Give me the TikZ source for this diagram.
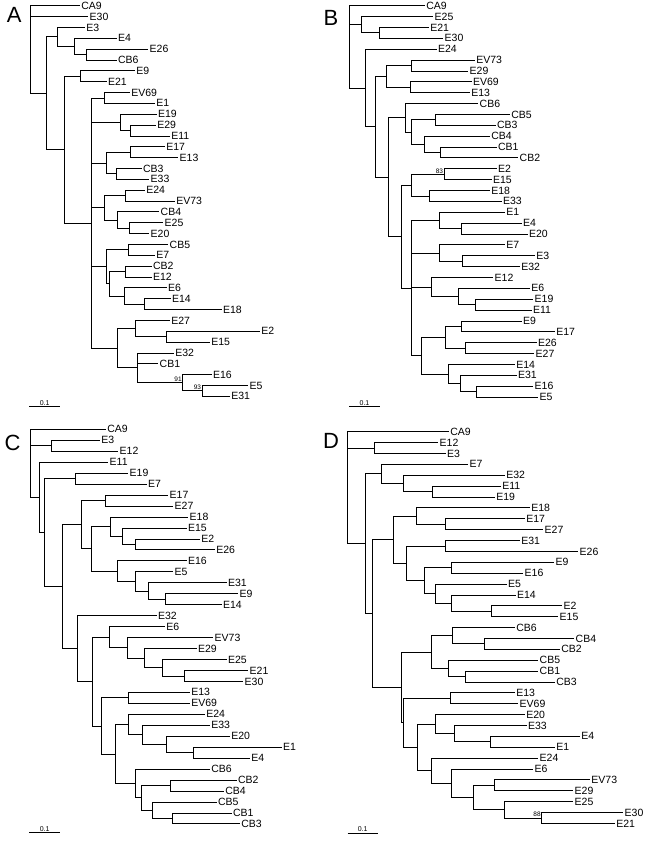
\documentclass[tikz,border=0pt]{standalone}
\usepackage{fontspec}
\setmainfont{Liberation Sans}
\usetikzlibrary{calc}
% a clade: name, x of its node, children from top to bottom
\newcommand\clade[3]{%
  \foreach \kid [count=\kidno] in {#3}{%
    \ifnum\kidno=1 \xdef\firstkid{\kid}\fi
    \xdef\lastkid{\kid}}%
  \path let \p1=(\firstkid), \p2=(\lastkid) in
    coordinate (#1) at (#2pt, {0.5*\y1+0.5*\y2});%
  \foreach \kid in {#3}{\draw[branch] (#1) |- (\kid);}%
}

\begin{document}
\begin{tikzpicture}[x=1pt, y=-1pt,
  leaf/.style={anchor=west, inner sep=1.2pt, font=\fontsize{10.5}{12}\selectfont},
  branch/.style={line width=0.8pt},
  boot/.style={anchor=south east, inner sep=0.8pt, font=\fontsize{6.5}{7}\selectfont},
  panel/.style={font=\fontsize{22}{24}\selectfont},
  barlabel/.style={above, inner sep=1pt, font=\fontsize{7}{8}\selectfont}
]
  \useasboundingbox (0,0) rectangle (653,841);

  % ---- A ----
  \node[panel] (labA) at (14.2,15.3) {A};
  \foreach \lf/\cx/\ix in {CA9/80/0, E30/88.3/1, E3/85/2, E4/116.7/3, E26/148.3/4,
      CB6/116.7/5, E9/135/6, E21/106.7/7, EV69/130/8, E1/155/9, E19/156.7/10,
      E29/156/11, E11/170/12, E17/165/13, E13/178.3/14, CB3/141.7/15, E33/149.3/16,
      E24/145/17, EV73/175/18, CB4/159.3/19, E25/163.3/20, E20/149.3/21,
      CB5/168.3/22, E7/155/23, CB2/151.7/24, E12/151.7/25, E6/166.7/26,
      E14/170.7/27, E18/221.7/28, E27/170/29, E2/260/30, E15/210/31, E32/174/32,
      CB1/158.3/33, E16/211.7/34, E5/248.3/35, E31/230/36}
    \node[leaf] (a\lf) at (\cx, {5.7+10.85*\ix}) {\lf};
  \clade{a1}{86.7}{aE26,aCB6}
  \clade{a2}{74}{aE4,a1}
  \clade{a3}{57.3}{aE3,a2}
  \clade{a4}{80}{aE9,aE21}
  \clade{a5}{104}{aEV69,aE1}
  \clade{a6}{130}{aE29,aE11}
  \clade{a7}{120.7}{aE19,a6}
  \clade{a8}{130.7}{aE17,aE13}
  \clade{a9}{116.7}{aCB3,aE33}
  \clade{a10}{106.7}{a8,a9}
  \clade{a11}{125.7}{aE24,aEV73}
  \clade{a12}{129.3}{aE25,aE20}
  \clade{a13}{117.3}{aCB4,a12}
  \clade{a14}{104}{a11,a13}
  \clade{a15}{128.3}{aCB5,aE7}
  \clade{a16}{125}{aCB2,aE12}
  \clade{a17}{144.3}{aE14,aE18}
  \clade{a18}{124.3}{aE6,a17}
  \clade{a19}{109}{a16,a18}
  \clade{a20}{106.7}{a15,a19}
  \clade{a21}{166.7}{aE2,aE15}
  \clade{a22}{135}{aE27,a21}
  \clade{a23}{202}{aE5,aE31}
  \clade{a24}{182.7}{aE16,a23}
  \clade{a25}{137.3}{aE32,aCB1,a24}
  \clade{a26}{117.3}{a22,a25}
  \clade{a27}{91.3}{a5,a7,a10,a14,a20,a26}
  \clade{a28}{64}{a4,a27}
  \clade{a29}{46.7}{a3,a28}
  \clade{a30}{30}{aCA9,aE30,a29}
  \node[boot] (a91) at (a24) {91};
  \node[boot] (a93) at (a23) {93};
  \coordinate (abar1) at (29.3,406.7);
  \coordinate (abar2) at (60,406.7);
  \draw[branch] (abar1) -- node[barlabel] (ascale) {0.1} (abar2);

  % ---- B ----
  \node[panel] (labB) at (331,17.5) {B};
  \foreach \lf/\cx/\ix in {CA9/425/0, E25/433.3/1, E21/429/2, E30/443.3/3, E24/436.7/4,
      EV73/475/5, E29/468.3/6, EV69/471.7/7, E13/470/8, CB6/478.3/9, CB5/510/10,
      CB3/495.7/11, CB4/490/12, CB1/496.7/13, CB2/518.3/14, E2/496.7/15,
      E15/491.7/16, E18/490/17, E33/501.7/18, E1/505/19, E4/521.7/20, E20/527.7/21,
      E7/505/22, E3/535/23, E32/520/24, E12/493.3/25, E6/530/26, E19/533.3/27,
      E11/531.7/28, E9/521.7/29, E17/555/30, E26/536.7/31, E27/534.3/32,
      E14/515/33, E31/516.7/34, E16/533.3/35, E5/538.3/36}
    \node[leaf] (b\lf) at (\cx, {5.7+10.87*\ix}) {\lf};
  \clade{b1}{379}{bE21,bE30}
  \clade{b2}{361.7}{bE25,b1}
  \clade{b3}{411.7}{bEV73,bE29}
  \clade{b4}{410}{bEV69,bE13}
  \clade{b5}{386}{b3,b4}
  \clade{b6}{435.7}{bCB5,bCB3}
  \clade{b7}{440}{bCB1,bCB2}
  \clade{b8}{424.3}{bCB4,b7}
  \clade{b9}{411.7}{b6,b8}
  \clade{b10}{405}{bCB6,b9}
  \clade{b11}{444}{bE2,bE15}
  \clade{b12}{429}{bE18,bE33}
  \clade{b13}{411}{b11,b12}
  \clade{b14}{461.7}{bE4,bE20}
  \clade{b15}{439}{bE1,b14}
  \clade{b16}{462.7}{bE3,bE32}
  \clade{b17}{439.3}{bE7,b16}
  \clade{b18}{475}{bE19,bE11}
  \clade{b19}{458.3}{bE6,b18}
  \clade{b20}{431.7}{bE12,b19}
  \clade{b21}{461.7}{bE9,bE17}
  \clade{b22}{465.7}{bE26,bE27}
  \clade{b23}{445.7}{b21,b22}
  \clade{b24}{476.7}{bE16,bE5}
  \clade{b25}{460.7}{bE31,b24}
  \clade{b26}{448.3}{bE14,b25}
  \clade{b27}{421.7}{b23,b26}
  \clade{b28}{411}{b15,b17,b20,b27}
  \clade{b29}{401}{b13,b28}
  \clade{b30}{388.3}{b10,b29}
  \clade{b31}{375.7}{b5,b30}
  \clade{b32}{365}{bE24,b31}
  \clade{b33}{349}{bCA9,b2,b32}
  \node[boot] (b83) at (b11) {83};
  \coordinate (bbar1) at (349,406.7);
  \coordinate (bbar2) at (380,406.7);
  \draw[branch] (bbar1) -- node[barlabel] (bscale) {0.1} (bbar2);

  % ---- C ----
  \node[panel] (labC) at (12.5,443.3) {C};
  \foreach \lf/\cx/\ix in {CA9/106/0, E3/100/1, E12/118.3/2, E11/108.3/3, E19/128.3/4,
      E7/146.7/5, E17/168.3/6, E27/173.3/7, E18/188.3/8, E15/186.7/9, E2/200/10,
      E26/215/11, E16/186.7/12, E5/173.3/13, E31/226.7/14, E9/238.3/15,
      E14/221.7/16, E32/156.7/17, E6/165/18, EV73/213.3/19, E29/196.7/20,
      E25/226.7/21, E21/248.3/22, E30/243.3/23, E13/190/24, EV69/190/25,
      E24/205/26, E33/210/27, E20/230/28, E1/281.7/29, E4/250/30, CB6/210/31,
      CB2/236.7/32, CB4/224/33, CB5/216.7/34, CB1/231.7/35, CB3/240/36}
    \node[leaf] (c\lf) at (\cx, {429.3+10.96*\ix}) {\lf};
  \clade{c1}{51.7}{cE3,cE12}
  \clade{c2}{75}{cE19,cE7}
  \clade{c3}{105}{cE17,cE27}
  \clade{c4}{135}{cE2,cE26}
  \clade{c5}{122.7}{cE15,c4}
  \clade{c6}{110}{cE18,c5}
  \clade{c7}{165}{cE9,cE14}
  \clade{c8}{148.3}{cE31,c7}
  \clade{c9}{135}{cE5,c8}
  \clade{c10}{117.3}{cE16,c9}
  \clade{c11}{91.7}{c6,c10}
  \clade{c12}{81.7}{c3,c11}
  \clade{c13}{184}{cE21,cE30}
  \clade{c14}{162.3}{cE25,c13}
  \clade{c15}{144}{cE29,c14}
  \clade{c16}{127.3}{cEV73,c15}
  \clade{c17}{109.3}{cE6,c16}
  \clade{c18}{128.3}{cE13,cEV69}
  \clade{c19}{193.3}{cE1,cE4}
  \clade{c20}{166.7}{cE20,c19}
  \clade{c21}{142.3}{cE33,c20}
  \clade{c22}{128.3}{cE24,c21}
  \clade{c23}{170.7}{cCB2,cCB4}
  \clade{c24}{172.7}{cCB1,cCB3}
  \clade{c25}{152.7}{cCB5,c24}
  \clade{c26}{141.7}{c23,c25}
  \clade{c27}{135.7}{cCB6,c26}
  \clade{c28}{115}{c22,c27}
  \clade{c29}{101.7}{c18,c28}
  \clade{c30}{92.7}{c17,c29}
  \clade{c31}{77.3}{cE32,c30}
  \clade{c32}{62.7}{c12,c31}
  \clade{c33}{44.3}{c2,c32}
  \clade{c34}{39.3}{cE11,c33}
  \clade{c35}{30}{cCA9,c1,c34}
  \coordinate (cbar1) at (29.3,832.7);
  \coordinate (cbar2) at (60,832.7);
  \draw[branch] (cbar1) -- node[barlabel] (cscale) {0.1} (cbar2);

  % ---- D ----
  \node[panel] (labD) at (331,441) {D};
  \foreach \lf/\cx/\ix in {CA9/449/0, E12/438.3/1, E3/445.7/2, E7/468.3/3, E32/505/4,
      E11/501/5, E19/495/6, E18/530/7, E17/525/8, E27/543.3/9, E31/520/10,
      E26/578.3/11, E9/554.3/12, E16/523.3/13, E5/506.7/14, E14/515.7/15,
      E2/562.3/16, E15/558.3/17, CB6/515/18, CB4/574.3/19, CB2/560/20,
      CB5/538.3/21, CB1/538.3/22, CB3/555/23, E13/515/24, EV69/518.3/25,
      E20/525/26, E33/526.7/27, E4/580/28, E1/555/29, E24/538.3/30, E6/533.3/31,
      EV73/590/32, E29/573.3/33, E25/573.3/34, E30/623.3/35, E21/615/36}
    \node[leaf] (d\lf) at (\cx, {431.7+10.88*\ix}) {\lf};
  \clade{d1}{374.3}{dE12,dE3}
  \clade{d2}{432.7}{dE11,dE19}
  \clade{d3}{403.3}{dE32,d2}
  \clade{d4}{381.7}{dE7,d3}
  \clade{d5}{445}{dE17,dE27}
  \clade{d6}{416.7}{dE18,d5}
  \clade{d7}{445}{dE31,dE26}
  \clade{d8}{451.7}{dE9,dE16}
  \clade{d9}{491}{dE2,dE15}
  \clade{d10}{451}{dE14,d9}
  \clade{d11}{435}{dE5,d10}
  \clade{d12}{424.3}{d8,d11}
  \clade{d13}{406.7}{d7,d12}
  \clade{d14}{393.3}{d6,d13}
  \clade{d15}{484}{dCB4,dCB2}
  \clade{d16}{452.3}{dCB6,d15}
  \clade{d17}{465}{dCB1,dCB3}
  \clade{d18}{448.3}{dCB5,d17}
  \clade{d19}{431}{d16,d18}
  \clade{d20}{450}{dE13,dEV69}
  \clade{d21}{490.7}{dE4,dE1}
  \clade{d22}{454.3}{dE33,d21}
  \clade{d23}{435.7}{dE20,d22}
  \clade{d24}{494.3}{dEV73,dE29}
  \clade{d25}{541.7}{dE30,dE21}
  \clade{d26}{504.3}{dE25,d25}
  \clade{d27}{473.3}{d24,d26}
  \clade{d28}{451.7}{dE6,d27}
  \clade{d29}{431.7}{dE24,d28}
  \clade{d30}{417.7}{d23,d29}
  \clade{d31}{403.3}{d20,d30}
  \clade{d32}{401}{d19,d31}
  \clade{d33}{372.7}{d14,d32}
  \clade{d34}{365}{d4,d33}
  \clade{d35}{347.7}{dCA9,d1,d34}
  \node[boot] (d88) at (d25) {88};
  \coordinate (dbar1) at (347.7,833.3);
  \coordinate (dbar2) at (377.7,833.3);
  \draw[branch] (dbar1) -- node[barlabel] (dscale) {0.1} (dbar2);
\end{tikzpicture}
\end{document}
